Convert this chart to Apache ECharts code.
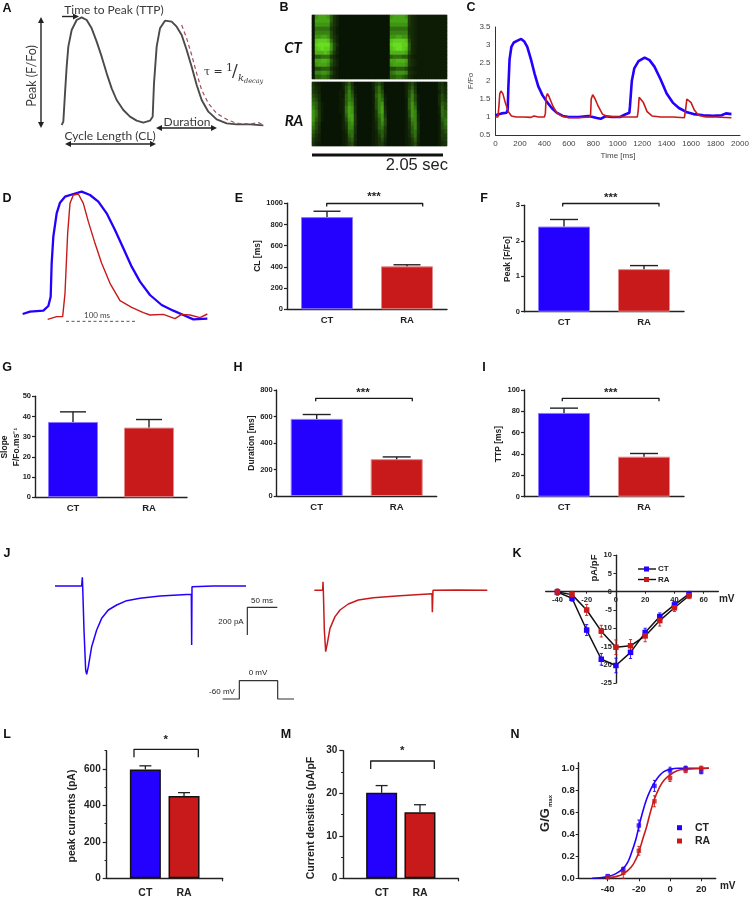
<!DOCTYPE html>
<html>
<head>
<meta charset="utf-8">
<style>html,body{margin:0;padding:0;background:#fff}#c{width:752px;height:911px}</style>
<script src="https://cdn.jsdelivr.net/npm/echarts@6/dist/echarts.min.js"></script>
</head>
<body>
<div id="c"></div>
<script>
// ---------- DATA ----------
const groupNames = ['CT', 'RA'];
const paddedNames = ['', 'CT', 'RA', ''];

// A: schematic, units
const schematicTrace = [[185,375],[190,365],[195,280],[200,200],[205,140],[215,90],[230,60],[245,52],[260,60],[275,85],[290,125],[305,170],[320,220],[335,265],[350,300],[370,330],[390,350],[410,362],[430,368],[450,362],[458,350],[462,250],[470,140],[480,85],[495,62],[515,65],[530,80],[545,105],[560,150],[575,200],[590,255],[605,300],[625,335],[650,358],[680,370],[710,373],[750,373],[790,376]];
const schematicDecay = [[545,75],[560,115],[575,165],[590,220],[605,270],[625,310],[650,340],[680,358],[710,370],[750,372],[775,368],[785,372]];

// B: line-scan intensity (hex digit per cell)
const scanCT = [
"0abbba742"+"00000000000000000"+"abbbba532"+"1111111111",
"0bbbbb742"+"00000000000000000"+"bbbbbb532"+"1111111111",
"0aaaaa642"+"00000000000000000"+"aaaaaa532"+"1111111111",
"088888531"+"00000000000000000"+"888888432"+"1111111111",
"099999631"+"00000000000000000"+"999999432"+"1111111111",
"0aabba642"+"00000000000000000"+"aabbaa532"+"1111111111",
"0deeed852"+"00000000000000000"+"deeeed632"+"1111111111",
"0effffa63"+"00000000000000000"+"efffee732"+"1111111111",
"0defeea62"+"00000000000000000"+"deffed732"+"1111111111",
"0cccdc852"+"00000000000000000"+"cccccb632"+"1111111111",
"077888531"+"00000000000000000"+"788877421"+"1111111111",
"0bbccb742"+"00000000000000000"+"bbcccb532"+"1111111111",
"0abbba642"+"00000000000000000"+"abbbba532"+"1111111111",
"066777421"+"00000000000000000"+"667776321"+"1111111111",
"099aa9631"+"00000000000000000"+"89aaa9432"+"1111111111",
"077887421"+"00000000000000000"+"778876321"+"1111111111"];
const scanRA = [
"421"+"0000000"+"2574"+"000000"+"2564"+"0000000"+"2463"+"0000000"+"342",
"532"+"0000000"+"2685"+"100000"+"2685"+"0000000"+"2574"+"0000000"+"353",
"542"+"0000001"+"1696"+"100000"+"1686"+"0000000"+"2685"+"0000000"+"253",
"653"+"0000001"+"1797"+"200000"+"1797"+"1000000"+"2696"+"1000000"+"364",
"763"+"0000001"+"2798"+"300000"+"1698"+"2000000"+"1796"+"1000000"+"365",
"874"+"1000001"+"27a9"+"300000"+"169a"+"2000000"+"17a7"+"1000000"+"376",
"974"+"1000001"+"28ba"+"400000"+"169b"+"3000000"+"17a8"+"1000000"+"286",
"a85"+"1000001"+"28ba"+"400000"+"159b"+"4000000"+"16a9"+"2000000"+"287",
"a85"+"1000000"+"27bb"+"500000"+"158a"+"5000000"+"16a9"+"3000000"+"187",
"a75"+"1000000"+"26ab"+"500000"+"147a"+"6000000"+"1599"+"3000000"+"178",
"964"+"0000000"+"259a"+"500000"+"1379"+"6000000"+"1489"+"4000000"+"168",
"863"+"0000000"+"2499"+"400000"+"1378"+"5000000"+"1479"+"4000000"+"167",
"753"+"0000000"+"1388"+"400000"+"1267"+"5000000"+"1378"+"4000000"+"156",
"642"+"0000000"+"1278"+"300000"+"1257"+"4000000"+"1368"+"3000000"+"155",
"532"+"0000000"+"1267"+"300000"+"1246"+"3000000"+"1257"+"3000000"+"145",
"421"+"0000000"+"1256"+"200000"+"1245"+"2000000"+"1246"+"2000000"+"134"];

// C: Ca transients, time [ms] vs F/Fo
const transientCT = [[0,1.05],[50,1.1],[90,1.12],[100,1.2],[105,1.8],[115,2.6],[130,2.95],[150,3.07],[180,3.12],[210,3.17],[235,3.1],[260,2.95],[290,2.6],[320,2.2],[350,1.85],[385,1.6],[420,1.42],[460,1.25],[500,1.12],[550,1.03],[600,1.0],[680,1.0],[760,1.03],[830,0.97],[860,0.95],[900,1.02],[950,1.0],[1020,1.0],[1060,1.07],[1095,1.12],[1100,1.3],[1115,2.0],[1135,2.35],[1170,2.55],[1220,2.65],[1260,2.58],[1300,2.4],[1350,2.05],[1400,1.65],[1450,1.4],[1500,1.25],[1560,1.14],[1620,1.08],[1700,1.05],[1780,1.03],[1850,1.05],[1885,1.1],[1930,1.08]];
const transientRA = [[0,1.0],[20,1.0],[28,1.3],[35,1.65],[45,1.72],[60,1.65],[80,1.4],[105,1.15],[130,1.03],[170,1.0],[230,1.0],[290,0.99],[315,1.03],[350,1.0],[400,1.0],[408,1.1],[414,1.55],[425,1.65],[440,1.55],[470,1.3],[500,1.12],[540,1.03],[600,0.98],[680,0.98],[770,1.0],[778,1.08],[783,1.5],[795,1.62],[815,1.5],[840,1.3],[875,1.08],[910,1.02],[1000,1.0],[1100,1.0],[1160,1.0],[1168,1.2],[1175,1.55],[1190,1.58],[1210,1.4],[1240,1.15],[1280,1.03],[1350,1.0],[1450,1.0],[1545,0.98],[1555,1.2],[1565,1.5],[1580,1.55],[1600,1.4],[1625,1.2],[1660,1.05],[1720,1.0],[1800,1.0],[1930,0.98]];

// D: normalised overlay, units
const overlayCT = [[68,402],[90,395],[130,392],[145,378],[152,350],[155,250],[160,170],[170,100],[180,68],[195,50],[220,42],[245,35],[270,45],[295,65],[320,100],[345,150],[370,205],[395,260],[420,305],[450,345],[485,375],[520,392],[550,405],[580,418],[622,416]];
const overlayRA = [[143,418],[170,410],[188,410],[195,340],[203,160],[210,70],[220,45],[235,42],[250,70],[265,125],[285,190],[305,250],[330,310],[360,362],[395,382],[430,398],[450,405],[490,403],[525,416],[545,403],[570,405],[600,413],[622,402]];
const overlayScale = [[198,424],[410,424]];

// E-I bars
const clMeans = [870, 405],       clTops = [925, 420];
const peakMeans = [2.4, 1.2],     peakTops = [2.6, 1.3];
const slopeMeans = [37.3, 34.5],  slopeTops = [42.3, 38.5];
const durationMeans = [582, 278], durationTops = [615, 295];
const ttpMeans = [78.5, 37.5],    ttpTops = [83, 40.5];

// J: current traces, units
const currentCT = [[165,168],[245,168],[247,142],[248,168],[252,300],[257,420],[260,433],[265,410],[275,350],[290,300],[305,265],[325,240],[350,225],[380,212],[420,205],[480,198],[574,193],[575,345],[576,170],[640,168],[738,168]];
const currentRA = [[943,181],[968,181],[969,155],[970,181],[973,300],[977,365],[982,340],[990,295],[1005,260],[1020,240],[1045,222],[1075,210],[1120,203],[1200,197],[1296,191],[1297,247],[1299,181],[1370,180],[1462,181]];
const scaleBars = [[832,232],[742,232],[742,315]];
const voltageStep = [[668,507],[718,507],[718,452],[833,452],[833,507],[882,507]];

// K: I-V curves
const voltagesK = [-40,-30,-20,-10,0,10,20,30,40,50];
const ivCT = [-0.1,-1.8,-10.5,-18.5,-20.2,-16.6,-11.2,-6.8,-3.6,-0.6];
const ivRA = [-0.1,-0.8,-5,-10.8,-15.2,-14.8,-12.1,-7.9,-4.4,-1.1];
const ivErrCT = [0.8,0.8,1.5,1.6,2,1.7,1.2,1,0.9,0.7];
const ivErrRA = [0.8,0.9,1.5,1.6,2,1.7,1.6,1.5,1,0.8];
const ticksKx = [-40,-20,0,20,40,60];

// L, M bars
const currentMeans = [597, 452], currentTops = [617, 470];
const densityMeans = [20.1, 15.5], densityTops = [21.8, 17.3];

// N: activation
const voltagesN = [-40,-30,-20,-10,0,10,20];
const gCT = [0.02,0.08,0.48,0.84,0.98,1.0,0.97];
const gRA = [0.01,0.05,0.25,0.70,0.91,0.98,1.0];
const gErrCT = [0.01,0.02,0.05,0.05,0.03,0.02,0.02];
const gErrRA = [0.01,0.05,0.04,0.05,0.03,0.02,0.02];
const fitCT = [[-50,0],[-45,0.005],[-40,0.015],[-35,0.04],[-30,0.09],[-27,0.15],[-25,0.22],[-22,0.35],[-20,0.47],[-18,0.58],[-15,0.72],[-12,0.82],[-10,0.87],[-7,0.93],[-4,0.97],[0,0.99],[5,1],[25,1]];
const fitRA = [[-40,0.005],[-35,0.015],[-30,0.04],[-25,0.1],[-22,0.17],[-20,0.24],[-17,0.38],[-15,0.47],[-13,0.58],[-10,0.72],[-7,0.82],[-4,0.89],[0,0.94],[5,0.98],[10,0.99],[25,1]];
const ticksNx = [-40,-20,0,20];
const ticksNy = [0,0.2,0.4,0.6,0.8,1];

// ---------- STYLE ----------
const BLUE = '#2400ff', RED = '#c81a1a', INK = '#222';
const SANS = '"Liberation Sans", Arial, sans-serif';
const HAND = 'Lato, "Open Sans", sans-serif';
const plain = (v) => String(v);

const grids = [], xAxes = [], yAxes = [], extraY = [], series = [], graphic = [];

function addGrid(left, top, width, height, xa, ya) {
  const i = grids.length;
  grids.push({ left, top, width, height, containLabel: false });
  xa.gridIndex = i; ya.gridIndex = i;
  xAxes.push(xa); yAxes.push(ya);
  return i;
}
function hidden(min, max, inverse) {
  return { type: 'value', min, max, inverse: !!inverse, show: false };
}
function line(i, data, color, width, extra) {
  series.push(Object.assign({
    type: 'line', xAxisIndex: i, yAxisIndex: i, data, showSymbol: false, silent: true,
    animation: false, lineStyle: { color, width }, itemStyle: { color }, clip: false
  }, extra || {}));
}
function errors(i, rows, cap, color, width, z) {
  series.push({
    type: 'custom', xAxisIndex: i, yAxisIndex: i, data: rows, silent: true, animation: false,
    encode: { x: 0, y: [1, 2] }, z: z || 3, clip: false,
    renderItem(params, api) {
      const x = api.value(0);
      const a = api.coord([x, api.value(1)]);
      const b = api.coord([x, api.value(2)]);
      const st = { stroke: color, lineWidth: width };
      return { type: 'group', children: [
        { type: 'line', shape: { x1: a[0], y1: a[1], x2: b[0], y2: b[1] }, style: st },
        { type: 'line', shape: { x1: b[0] - cap, y1: b[1], x2: b[0] + cap, y2: b[1] }, style: st }
      ].concat(api.value(3) ? [{ type: 'line', shape: { x1: a[0] - cap, y1: a[1], x2: a[0] + cap, y2: a[1] }, style: st }] : []) };
    }
  });
}
function txt(x, y, text, font, opt) {
  opt = opt || {};
  graphic.push({
    type: 'text', x, y, rotation: opt.rot || 0, z: 20, silent: true,
    style: { text, x: 0, y: 0, font, fill: opt.fill || INK,
      textAlign: opt.align || 'center', textVerticalAlign: 'middle',
      align: opt.align || 'center', verticalAlign: 'middle' }
  });
}
function poly(points, color, width, extra) {
  graphic.push({ type: 'polyline', z: 19, silent: true, shape: { points },
    style: Object.assign({ stroke: color, lineWidth: width, fill: null, lineJoin: 'round' }, extra || {}) });
}
function tri(pts, color) {
  graphic.push({ type: 'polygon', z: 19, silent: true, shape: { points: pts }, style: { fill: color } });
}
function bracket(x1, x2, y, drop) {
  poly([[x1, y + drop], [x1, y], [x2, y], [x2, y + drop]], '#1a1a1a', 1.3);
}
function barPanel(left, top, width, height, names, means, tops, yMax, interval, o) {
  const thick = o.framed ? 1.5 : 1;
  const i = addGrid(left, top, width, height, {
    type: 'category', data: names, boundaryGap: !o.framed,
    axisLine: { lineStyle: { color: INK, width: 1.4 } },
    axisTick: o.framed ? { show: true, length: 3, alignWithLabel: true, interval: (k) => k === 3, lineStyle: { color: INK, width: 1.2 } } : { show: false },
    axisLabel: { interval: 0, color: INK, fontFamily: SANS, fontWeight: 'bold', fontSize: o.catSize || 9.5, margin: o.catMargin || 6 }
  }, {
    type: 'value', min: 0, max: yMax, interval,
    axisLine: { show: true, lineStyle: { color: INK, width: 1.4 } },
    axisTick: { show: true, length: o.framed ? 4 : 3, lineStyle: { color: INK, width: 1.2 },
      ...(o.labelValues ? { customValues: o.labelValues } : {}) },
    axisLabel: { color: INK, fontFamily: SANS, fontWeight: 'bold', fontSize: o.tickSize || 7.5, margin: o.framed ? 6 : 4, formatter: plain,
      ...(o.labelValues ? { customValues: o.labelValues } : {}) },
    splitLine: { show: false }
  });
  const offset = o.framed ? 1 : 0;
  const colors = [BLUE, RED];
  series.push({
    type: 'bar', xAxisIndex: i, yAxisIndex: i, barWidth: o.barWidth, silent: true, animation: false, z: 2,
    data: names.map((n, k) => {
      const m = k - offset;
      if (m < 0 || m > 1) return null;
      return { value: means[m], itemStyle: { color: colors[m],
        borderColor: o.framed ? '#111' : (m ? '#e08a8a' : '#8a78ff'), borderWidth: thick } };
    })
  });
  errors(i, means.map((m, k) => [k + offset, m, tops[k]]), o.cap, '#222', o.framed ? 1.3 : 1.4, 3);
  if (o.minorTicks) {
    extraY.push({
      type: 'value', gridIndex: i, position: 'left', min: 0, max: yMax,
      axisLine: { show: false }, axisLabel: { show: false }, splitLine: { show: false },
      axisTick: { show: true, length: 2.2, customValues: o.minorTicks, lineStyle: { color: INK, width: 1 } }
    });
  }
  return i;
}

// ---------- PANEL A ----------
const gA = addGrid(0, 0, 280, 170, hidden(0, 840), hidden(0, 510, true));
line(gA, schematicTrace, '#4a4a4a', 1.9);
line(gA, schematicDecay, '#a5505a', 1.2, { lineStyle: { color: '#a5505a', width: 1.2, type: [4, 3] } });

// ---------- PANEL B ----------
function heat(top, rows) {
  const i = addGrid(312, top, 135, 64,
    { type: 'category', show: false, data: rows[0].split('').map((_, k) => k) },
    { type: 'category', show: false, inverse: true, data: rows.map((_, k) => k) });
  grids[i].show = true; grids[i].borderColor = '#aaa'; grids[i].borderWidth = 0.6; grids[i].backgroundColor = '#0a1604';
  const data = [];
  rows.forEach((r, y) => r.split('').forEach((c, x) => data.push([x, y, parseInt(c, 16)])));
  series.push({ type: 'heatmap', xAxisIndex: i, yAxisIndex: i, data, silent: true, animation: false, progressive: 0 });
  return series.length - 1;
}
const heatA = heat(15, scanCT);
const heatB = heat(82, scanRA);

// ---------- PANEL C ----------
const axisC = { lineStyle: { color: '#333', width: 1 } };
const gC = addGrid(495.5, 27, 244.5, 108, {
  type: 'value', min: 0, max: 2000, interval: 200,
  axisLine: Object.assign({ onZero: false }, axisC), axisTick: { show: false },
  axisLabel: { color: '#444', fontFamily: SANS, fontSize: 8, margin: 5, formatter: plain }, splitLine: { show: false }
}, {
  type: 'value', min: 0.5, max: 3.5, interval: 0.5,
  axisLine: Object.assign({ show: true, onZero: false }, axisC), axisTick: { show: false },
  axisLabel: { color: '#444', fontFamily: SANS, fontSize: 8, margin: 5, formatter: plain }, splitLine: { show: false }
});
line(gC, transientCT, BLUE, 2.6);
line(gC, transientRA, RED, 1.6);

// ---------- PANEL D ----------
const gD = addGrid(0, 180, 480, 160, hidden(0, 1440), hidden(0, 480, true));
line(gD, overlayCT, BLUE, 2.3);
line(gD, overlayRA, RED, 1.4);
line(gD, overlayScale, '#444', 0.9, { lineStyle: { color: '#444', width: 0.9, type: [3, 2.5] } });

// ---------- PANELS E-I ----------
barPanel(287, 203.3, 160, 106, groupNames, clMeans, clTops, 1000, 200, { barWidth: 52, cap: 13.5 });
barPanel(524, 205.3, 160, 106.4, groupNames, peakMeans, peakTops, 3, 1, { barWidth: 52, cap: 14 });
barPanel(35, 396.3, 152, 101, groupNames, slopeMeans, slopeTops, 50, 10, { barWidth: 50, cap: 13 });
barPanel(276.7, 390, 160, 106, groupNames, durationMeans, durationTops, 800, 200, { barWidth: 52, cap: 14 });
barPanel(524, 390, 160, 106.7, groupNames, ttpMeans, ttpTops, 100, 20, { barWidth: 52, cap: 14 });

// ---------- PANEL J ----------
const gJ = addGrid(0, 530, 500, 190, hidden(0, 1500), hidden(0, 570, true));
line(gJ, currentCT, BLUE, 1.5);
line(gJ, currentRA, RED, 1.5);
line(gJ, scaleBars, '#333', 1.2);
line(gJ, voltageStep, '#333', 1.2);

// ---------- PANEL K ----------
// The axes cross at zero, so each gets its own band of the panel and carries its labels next to the crossing.
const boldK = { color: INK, fontFamily: SANS, fontWeight: 'bold', fontSize: 7.5 };
const gK = addGrid(545.7, 555.2, 172.6, 127.8, hidden(-48, 70), hidden(-25, 10));
addGrid(545.7, 555.2, 172.6, 36.5, {
  type: 'value', min: -48, max: 70,
  axisLine: { onZero: false, lineStyle: { color: INK, width: 1.4 } },
  axisTick: { show: true, length: 2, customValues: ticksKx, lineStyle: { color: INK } },
  axisLabel: Object.assign({ customValues: ticksKx, margin: 4 }, boldK), splitLine: { show: false }
}, hidden(0, 1));
addGrid(615.9, 555.2, 102.4, 127.8, hidden(0, 1), {
  type: 'value', min: -25, max: 10, interval: 5,
  axisLine: { show: true, onZero: false, lineStyle: { color: INK, width: 1.4 } },
  axisTick: { show: true, length: 2.5, lineStyle: { color: INK } },
  axisLabel: Object.assign({ margin: 4 }, boldK), splitLine: { show: false }
});
errors(gK, voltagesK.map((v, k) => [v, ivCT[k] - ivErrCT[k], ivCT[k] + ivErrCT[k], 1]), 1.6, BLUE, 0.9, 1);
errors(gK, voltagesK.map((v, k) => [v, ivRA[k] - ivErrRA[k], ivRA[k] + ivErrRA[k], 1]), 1.6, RED, 0.9, 1);
const ivSeries = (vals, color) => ({
  type: 'line', xAxisIndex: gK, yAxisIndex: gK, silent: true, animation: false, clip: false,
  data: voltagesK.map((v, k) => [v, vals[k]]), symbol: 'rect', symbolSize: 5.5, showSymbol: true,
  lineStyle: { color: '#111', width: 1.5 }, itemStyle: { color }
});
series.push(ivSeries(ivCT, BLUE), ivSeries(ivRA, RED));

// ---------- PANELS L, M ----------
const bigBars = { framed: true, barWidth: 31, cap: 6, tickSize: 10, catSize: 10.5, catMargin: 9 };
barPanel(106.7, 750.7, 116, 127.6, paddedNames, currentMeans, currentTops, 700, 200,
  Object.assign({ labelValues: [0, 200, 400, 600], minorTicks: [100, 300, 500, 700] }, bigBars));
barPanel(343.3, 750.7, 115, 127.6, paddedNames, densityMeans, densityTops, 30, 10,
  Object.assign({ minorTicks: [5, 15, 25] }, bigBars));

// ---------- PANEL N ----------
const boldN = { color: INK, fontFamily: SANS, fontWeight: 'bold', fontSize: 9.5 };
const gN = addGrid(578.7, 762.8, 137, 115.5, {
  type: 'value', min: -58.6, max: 29.3,
  axisLine: { onZero: false, lineStyle: { color: INK, width: 1.4 } },
  axisTick: { show: true, length: 3, customValues: ticksNx, lineStyle: { color: INK } },
  axisLabel: Object.assign({ customValues: ticksNx, margin: 6 }, boldN), splitLine: { show: false }
}, {
  type: 'value', min: 0, max: 1.05,
  axisLine: { show: true, onZero: false, lineStyle: { color: INK, width: 1.4 } },
  axisTick: { show: true, length: 3, customValues: ticksNy, lineStyle: { color: INK } },
  axisLabel: Object.assign({ customValues: ticksNy, margin: 4, formatter: (v) => v.toFixed(1) }, boldN), splitLine: { show: false }
});
errors(gN, voltagesN.map((v, k) => [v, gCT[k] - gErrCT[k], gCT[k] + gErrCT[k], 1]), 1.5, BLUE, 0.9, 1);
errors(gN, voltagesN.map((v, k) => [v, gRA[k] - gErrRA[k], gRA[k] + gErrRA[k], 1]), 1.5, RED, 0.9, 1);
line(gN, fitCT, BLUE, 1.6, { smooth: 0.4 });
line(gN, fitRA, RED, 1.6, { smooth: 0.4 });
const gPoints = (vals, color) => ({
  type: 'scatter', xAxisIndex: gN, yAxisIndex: gN, silent: true, animation: false,
  data: voltagesN.map((v, k) => [v, vals[k]]), symbol: 'rect', symbolSize: 4.5, itemStyle: { color }, z: 4
});
series.push(gPoints(gCT, BLUE), gPoints(gRA, RED));

// ---------- ANNOTATION ----------
const panelFont = 'bold 12.5px ' + SANS;
[['A',7,9],['B',284,8],['C',471,8],['D',7,199],['E',239,199],['F',484,199],['G',7,368],['H',238,368],['I',484,368],
 ['J',7,554],['K',517,554],['L',7,735],['M',286,735],['N',515,735]].forEach((p) => txt(p[1], p[2], p[0], panelFont, { fill: '#111' }));

// A text and arrows
const aFont = '12px ' + HAND;
txt(114, 10, 'Time to Peak (TTP)', aFont, { fill: '#3a3a3a' });
txt(32, 76, 'Peak (F/Fo)', '12.5px ' + HAND, { fill: '#3a3a3a', rot: Math.PI / 2 });
txt(110, 136, 'Cycle Length (CL)', aFont, { fill: '#3a3a3a' });
txt(187, 122, 'Duration', aFont, { fill: '#3a3a3a' });
const dark = '#222';
poly([[62, 16.5], [75, 16.5]], dark, 1.4);
tri([[79, 16.5], [73, 13.5], [73, 19.5]], dark);
poly([[41, 21], [41, 124]], dark, 1.4);
tri([[41, 17], [38, 23], [44, 23]], dark); tri([[41, 128], [38, 122], [44, 122]], dark);
poly([[69, 144], [152, 144]], dark, 1.4);
tri([[65, 144], [71, 141], [71, 147]], dark); tri([[156, 144], [150, 141], [150, 147]], dark);
poly([[160, 128], [213, 128]], dark, 1.4);
tri([[156, 128], [162, 125], [162, 131]], dark); tri([[217, 128], [211, 125], [211, 131]], dark);
const serif = '"DejaVu Serif", "Liberation Serif", serif';
txt(204, 72, 'τ =', '11px ' + serif, { align: 'left', fill: '#333' });
txt(226, 68, '1', '11px ' + serif, { align: 'left', fill: '#333' });
txt(232, 72, '/', '17px ' + serif, { align: 'left', fill: '#333' });
txt(238, 78, 'k', 'italic 10px ' + serif, { align: 'left', fill: '#333' });
txt(244, 81, 'decay', 'italic 6.5px ' + serif, { align: 'left', fill: '#333' });

// B text
const bFont = 'italic bold 15px ' + HAND;
txt(293, 48, 'CT', bFont, { fill: '#111' });
txt(294, 121, 'RA', bFont, { fill: '#111' });
poly([[312, 155], [443, 155]], '#111', 3.2);
txt(448, 165, '2.05 sec', '16.5px ' + SANS, { align: 'right', fill: '#222' });

// C text
txt(471, 81, 'F/Fo', '8px ' + SANS, { rot: Math.PI / 2, fill: '#444' });
txt(618, 156, 'Time [ms]', '8px ' + SANS, { fill: '#444' });

// D text
txt(97, 315, '100 ms', '8px ' + HAND, { fill: '#444' });

// axis names
const nameFont = 'bold 8.5px ' + SANS;
txt(258, 256, 'CL [ms]', nameFont, { rot: Math.PI / 2 });
txt(508, 259, 'Peak [F/Fo]', nameFont, { rot: Math.PI / 2 });
txt(5, 447, 'Slope', nameFont, { rot: Math.PI / 2 });
txt(16.5, 447, 'F/Fo.ms⁻¹', nameFont, { rot: Math.PI / 2 });
txt(252, 443, 'Duration [ms]', nameFont, { rot: Math.PI / 2 });
txt(499, 444, 'TTP [ms]', nameFont, { rot: Math.PI / 2 });
txt(71.7, 816, 'peak currents (pA)', 'bold 10.5px ' + SANS, { rot: Math.PI / 2 });
txt(310.7, 818, 'Current densities (pA/pF', 'bold 10.5px ' + SANS, { rot: Math.PI / 2 });

// brackets and stars
const starFont = 'bold 11.5px ' + SANS;
bracket(326.7, 422.7, 203.5, 3); txt(374, 197, '***', starFont);
bracket(562.7, 659, 203.5, 3);   txt(610.7, 198, '***', starFont);
bracket(315.7, 412.3, 398.3, 3); txt(363, 393, '***', starFont);
bracket(562.3, 659, 398.3, 3);   txt(610.7, 393, '***', starFont);
bracket(134, 198.3, 749.3, 8);   txt(165.7, 740, '*', starFont);
bracket(370.7, 434.3, 761, 8);   txt(402.3, 751, '*', starFont);

// J text
const jFont = '8px ' + SANS;
txt(262, 601, '50 ms', jFont);
txt(231, 622, '200 pA', jFont);
txt(258, 673, '0 mV', jFont);
txt(222, 692, '-60 mV', jFont);

// K text and legend
txt(594, 568, 'pA/pF', 'bold 9.5px ' + SANS, { rot: Math.PI / 2 });
txt(726.7, 599, 'mV', 'bold 10px ' + SANS);
[[569, BLUE, 'CT'], [579.5, RED, 'RA']].forEach((l) => {
  poly([[638, l[0]], [656, l[0]]], '#111', 1.4);
  graphic.push({ type: 'rect', z: 20, silent: true, shape: { x: 644, y: l[0] - 2.5, width: 5, height: 5 }, style: { fill: l[1] } });
  txt(658, l[0], l[2], 'bold 8px ' + SANS, { align: 'left' });
});

// N text and legend
txt(545, 820, 'G/G', 'bold 13px ' + SANS, { rot: Math.PI / 2 });
txt(550.5, 801, 'max', 'bold 6px ' + SANS, { rot: Math.PI / 2 });
txt(727.7, 886.5, 'mV', 'bold 10px ' + SANS);
[[827.7, BLUE, 'CT'], [841, RED, 'RA']].forEach((l) => {
  graphic.push({ type: 'rect', z: 20, silent: true, shape: { x: 677, y: l[0] - 2.5, width: 5, height: 5 }, style: { fill: l[1] } });
  txt(695, l[0], l[2], 'bold 10.5px ' + SANS, { align: 'left' });
});

// ---------- RENDER ----------
const chart = echarts.init(document.getElementById('c'), null, { renderer: 'canvas' });
chart.setOption({
  animation: false,
  backgroundColor: '#fff',
  grid: grids,
  xAxis: xAxes,
  yAxis: yAxes.concat(extraY),
  visualMap: { show: false, type: 'continuous', min: 0, max: 15, dimension: 2, seriesIndex: [heatA, heatB],
    inRange: { color: ['#081404', '#1c3a0a', '#3f9414', '#6add22'] } },
  series,
  graphic
});
</script>
</body>
</html>
